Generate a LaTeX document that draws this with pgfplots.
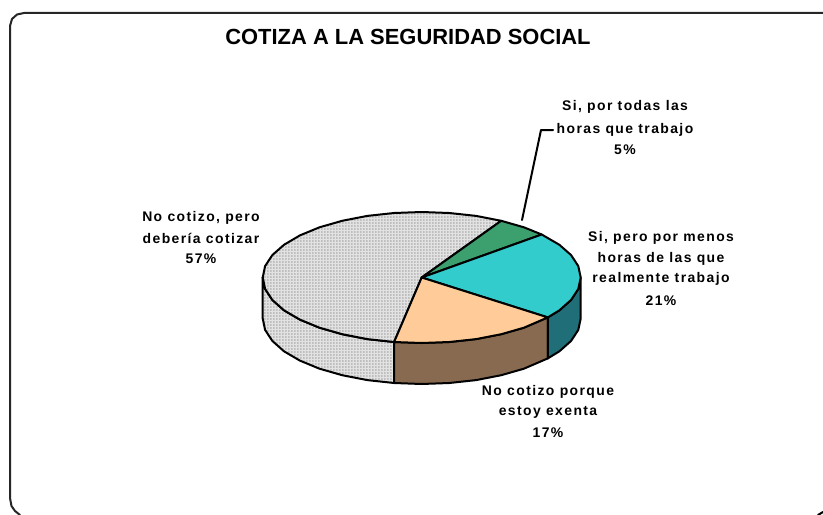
\documentclass[border=0pt]{standalone}
\usepackage{fontspec}
\setmainfont{Liberation Sans}
\newfontfamily\labfont[LetterSpace=10,Ligatures=NoCommon]{Liberation Sans}
\usepackage{pgfplots}
\pgfplotsset{compat=1.18}
\usepackage{pgfplotstable}
\usetikzlibrary{patterns}
\definecolor{cgray}{HTML}{E2E2E2}
\definecolor{cdots}{HTML}{BEBEBE}
\definecolor{cgreen}{HTML}{3C9F6E}
\definecolor{cteal}{HTML}{33CCCC}
\definecolor{cpeach}{HTML}{FFCC99}
\definecolor{cbrown}{HTML}{876A50}
\definecolor{cdark}{HTML}{1F6E78}
\pgfdeclarepatternformonly{fine}{\pgfqpoint{0bp}{0bp}}{\pgfqpoint{1.6bp}{1.6bp}}{\pgfqpoint{3bp}{3bp}}{%
  \pgfpathrectangle{\pgfqpoint{0bp}{0bp}}{\pgfqpoint{1.6bp}{1.6bp}}\pgfusepath{fill}}
\pgfplotstableread{
x y
421.7 277.5
501.2 220.8
476.1 215.9
449.3 213.0
421.7 212.0
394.1 213.0
367.3 215.9
342.2 220.8
319.5 227.3
299.9 235.4
284.0 244.8
272.3 255.1
265.1 266.1
262.7 277.5
265.1 288.9
272.3 299.9
284.0 310.3
299.9 319.6
319.5 327.7
342.2 334.2
367.3 339.1
394.1 342.0
421.7 277.5
}\graytop
\pgfplotstableread{
x y
262.7 277.5
265.1 288.9
272.3 299.9
284.0 310.3
299.9 319.6
319.5 327.7
342.2 334.2
367.3 339.1
394.1 342.0
394.1 383.0
367.3 380.1
342.2 375.2
319.5 368.7
299.9 360.6
284.0 351.3
272.3 340.9
265.1 329.9
262.7 318.5
262.7 277.5
}\grayside
\newcommand\lab[3]{\node[anchor=base,font=\fontsize{14}{14}\selectfont\labfont\bfseries] at (axis cs:#1,#2) {#3};}
\begin{document}
\begin{tikzpicture}
\path[use as bounding box] (0,0) rectangle (823bp,515bp);
\begin{axis}[
  at={(0,0)}, anchor=south west,
  scale only axis, width=823bp, height=515bp,
  xmin=0, xmax=823, ymin=0, ymax=515, y dir=reverse,
  hide axis, clip=true,
  every axis plot/.append style={line join=round, line cap=round},
  outl/.style={draw=black, line width=2bp},
]
% frame
\addplot[draw=black!85, line width=2bp, no marks] coordinates {
 (823,13) (24,13) (17,14.5) (12,19) (10,26) (10,498) (11.5,506) (15,511) (20,515)};
\addplot[draw=black, line width=2bp, no marks] coordinates {(818,515) (823,512)};
% side faces
\addplot[draw=none, fill=cgray, no marks] table {\grayside};
\addplot[draw=none, pattern=fine, pattern color=cdots, no marks] table {\grayside};
\addplot[outl, no marks] table {\grayside};
\addplot[outl, fill=cbrown, no marks] coordinates {
 (547.8,317.4) (523.9,327.7) (501.2,334.2) (476.1,339.1) (449.3,342.0) (421.7,343.0) (394.1,342.0)
 (394.1,383.0) (421.7,384.0) (449.3,383.0) (476.1,380.1) (501.2,375.2) (523.9,368.7) (547.8,358.4) (547.8,317.4)};
\addplot[outl, fill=cdark, no marks] coordinates {
 (580.7,277.5) (578.3,288.9) (571.1,299.9) (559.4,310.3) (547.8,317.4)
 (547.8,358.4) (559.4,351.3) (571.1,340.9) (578.3,329.9) (580.7,318.5) (580.7,277.5)};
% top faces
\addplot[draw=none, fill=cgray, no marks] table {\graytop};
\addplot[draw=none, pattern=fine, pattern color=cdots, no marks] table {\graytop};
\addplot[outl, no marks] table {\graytop};
\addplot[outl, fill=cgreen, no marks] coordinates {
 (421.7,277.5) (541.7,234.5) (523.9,227.3) (501.2,220.8) (421.7,277.5)};
\addplot[outl, fill=cteal, no marks] coordinates {
 (421.7,277.5) (547.8,317.4) (559.4,310.3) (571.1,299.9) (578.3,288.9) (580.7,277.5)
 (578.3,266.1) (571.1,255.1) (559.4,244.8) (541.7,234.5) (421.7,277.5)};
\addplot[outl, fill=cpeach, no marks] coordinates {
 (421.7,277.5) (394.1,342.0) (421.7,343.0) (449.3,342.0) (476.1,339.1) (501.2,334.2)
 (523.9,327.7) (547.8,317.4) (421.7,277.5)};
% leader
\addplot[draw=black, line width=2bp, no marks] coordinates {(553,130) (541,130) (522,220)};
% texts
\node[font=\fontsize{22}{22}\selectfont\bfseries, anchor=base] at (axis cs:408,45) {COTIZA A LA SEGURIDAD SOCIAL};
\lab{625}{110}{Si, por todas las}
\lab{625}{133}{horas que trabajo}
\lab{625}{154}{5\%}
\lab{201}{221}{No cotizo, pero}
\lab{201}{243}{debería cotizar}
\lab{201}{263}{57\%}
\lab{548}{395}{No cotizo porque}
\lab{548}{415}{estoy exenta}
\lab{548}{437}{17\%}
\lab{661}{241}{Si, pero por menos}
\lab{661}{262}{horas de las que}
\lab{661}{282}{realmente trabajo}
\lab{661}{305}{21\%}
\end{axis}
\end{tikzpicture}
\end{document}
